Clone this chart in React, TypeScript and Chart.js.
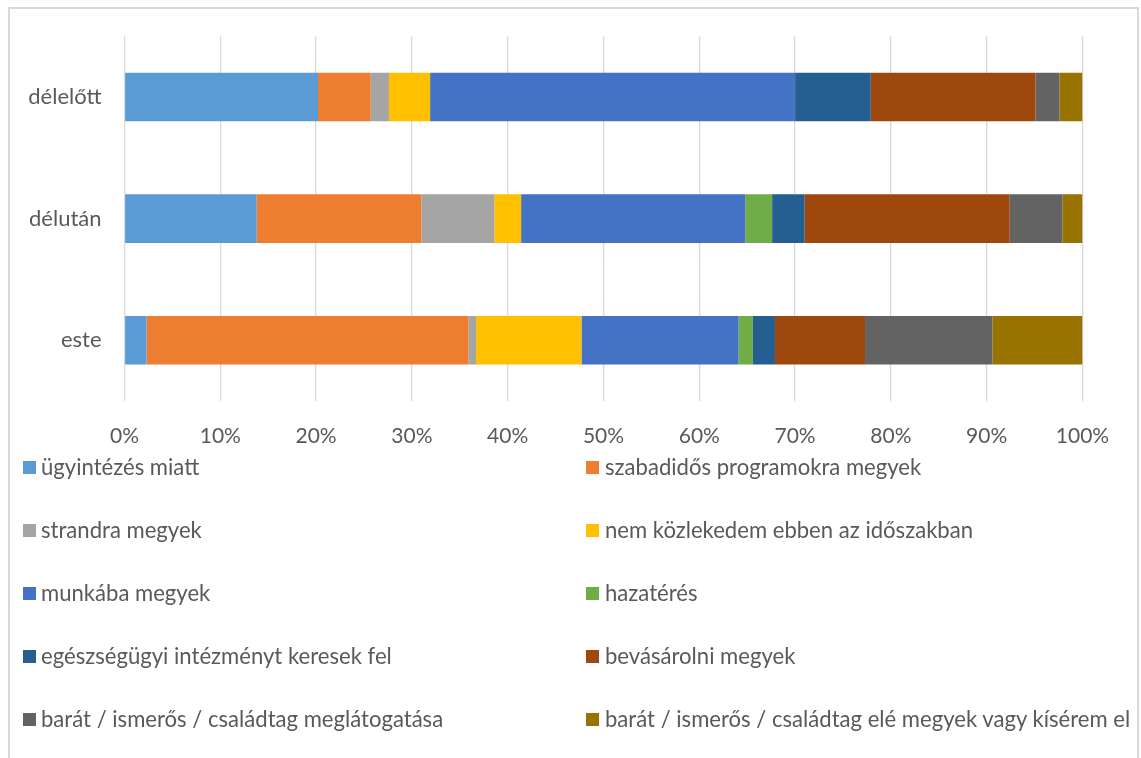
import React, { useEffect, useRef } from "react";
import { Chart, registerables } from "chart.js";

Chart.register(...registerables);

const categories = ["délelőtt", "délután", "este"];

const seriesNames = [
  "ügyintézés miatt",
  "szabadidős programokra megyek",
  "strandra megyek",
  "nem közlekedem ebben az időszakban",
  "munkába megyek",
  "hazatérés",
  "egészségügyi intézményt keresek fel",
  "bevásárolni megyek",
  "barát / ismerős / családtag meglátogatása",
  "barát / ismerős / családtag elé megyek vagy kísérem el",
];

// values per series: [délelőtt, délután, este] in percent
const ugyintezes = [20.2, 13.8, 2.3];
const szabadidos = [5.5, 17.2, 33.6];
const strandra = [1.9, 7.6, 0.8];
const nemKozlekedem = [4.3, 2.8, 11.0];
const munkaba = [38.1, 23.4, 16.4];
const hazateres = [0, 2.8, 1.5];
const egeszsegugyi = [7.9, 3.4, 2.3];
const bevasarolni = [17.2, 21.4, 9.4];
const meglatogatas = [2.5, 5.5, 13.3];
const eleMegyek = [2.4, 2.1, 9.4];

const seriesValues = [
  ugyintezes,
  szabadidos,
  strandra,
  nemKozlekedem,
  munkaba,
  hazateres,
  egeszsegugyi,
  bevasarolni,
  meglatogatas,
  eleMegyek,
];

const colors = [
  "#5B9BD5",
  "#ED7D31",
  "#A5A5A5",
  "#FFC000",
  "#4472C4",
  "#70AD47",
  "#255E91",
  "#9E480E",
  "#636363",
  "#997300",
];

const xTicks = [0, 10, 20, 30, 40, 50, 60, 70, 80, 90, 100];

const FONT = "Lato, 'Open Sans', sans-serif";
const TEXT = "#595959";

export default function App() {
  const ref = useRef<HTMLCanvasElement>(null);

  useEffect(() => {
    if (!ref.current) return;
    const chart = new Chart(ref.current, {
      type: "bar",
      data: {
        labels: categories,
        datasets: seriesNames.map((name, i) => ({
          label: name,
          data: seriesValues[i],
          backgroundColor: colors[i],
          borderWidth: 0,
          barPercentage: 0.4,
          categoryPercentage: 1,
        })),
      },
      options: {
        indexAxis: "y",
        responsive: false,
        animation: false,
        devicePixelRatio: 1,
        layout: { padding: { top: 36, right: 58.5, left: 0, bottom: 0 } },
        plugins: {
          legend: { display: false },
          tooltip: { enabled: false },
        },
        scales: {
          x: {
            stacked: true,
            min: 0,
            max: 100,
            afterBuildTicks: (scale: any) => {
              scale.ticks = xTicks.map((v) => ({ value: v }));
            },
            afterFit: (scale: any) => {
              scale.height = 59;
            },
            grid: {
              color: "#d9d9d9",
              lineWidth: 1.3,
              drawTicks: false,
            },
            border: { display: false },
            ticks: {
              padding: 23,
              color: TEXT,
              font: { family: FONT, size: 21 },
              callback: (v: any) => v + "%",
            },
          },
          y: {
            stacked: true,
            afterFit: (scale: any) => {
              scale.width = 124.5;
            },
            grid: { display: false, drawTicks: false },
            border: { display: false },
            ticks: {
              padding: 23,
              color: TEXT,
              font: { family: FONT, size: 22 },
            },
          },
        },
      },
    });
    return () => chart.destroy();
  }, []);

  const rowCenters = [467, 530, 593, 656, 719];
  const colSquareX = [22.5, 586];
  const colTextX = [41, 605];

  return (
    <div
      style={{
        position: "fixed",
        left: 0,
        top: 0,
        width: 1141,
        height: 758,
        overflow: "hidden",
        background: "#fff",
      }}
    >
      <canvas
        ref={ref}
        width={1141}
        height={460}
        style={{ position: "absolute", left: 0, top: 0, width: 1141, height: 460 }}
      />
      <div
        style={{
          position: "absolute",
          left: 0,
          top: 0,
          width: 1136,
          height: 758,
          overflow: "hidden",
        }}
      >
        {seriesNames.map((name, i) => {
          const col = i % 2;
          const row = Math.floor(i / 2);
          const cy = rowCenters[row];
          return (
            <React.Fragment key={name}>
              <div
                style={{
                  position: "absolute",
                  left: colSquareX[col],
                  top: cy - 6.5,
                  width: 13,
                  height: 13,
                  background: colors[i],
                }}
              />
              <div
                style={{
                  position: "absolute",
                  left: colTextX[col],
                  top: cy - 14,
                  height: 28,
                  lineHeight: "28px",
                  fontFamily: FONT,
                  fontSize: 22.1,
                  color: TEXT,
                  whiteSpace: "nowrap",
                }}
              >
                {name}
              </div>
            </React.Fragment>
          );
        })}
      </div>
      <div
        style={{
          position: "absolute",
          left: 8,
          top: 7,
          width: 1131,
          height: 800,
          boxSizing: "border-box",
          border: "2px solid #d9d9d9",
          pointerEvents: "none",
        }}
      />
    </div>
  );
}
